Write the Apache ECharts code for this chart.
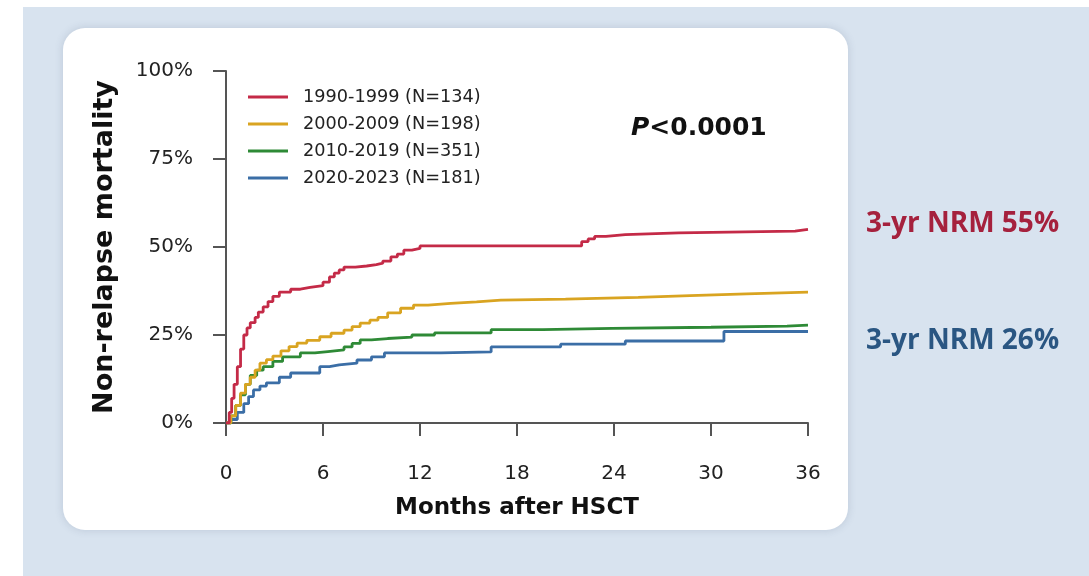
<!DOCTYPE html>
<html>
<head>
<meta charset="utf-8">
<script src="https://cdn.jsdelivr.net/npm/echarts@6/dist/echarts.min.js"></script>
<style>
  html, body { margin: 0; padding: 0; background: #ffffff; }
  #chart { width: 1089px; height: 576px; }
</style>
</head>
<body>
<div id="chart"></div>
<script>
// Cumulative incidence of non-relapse mortality by transplant era (step curves).
const seriesNames = ['1990-1999 (N=134)', '2000-2009 (N=198)', '2010-2019 (N=351)', '2020-2023 (N=181)'];

const months1990 = [0, 0.2, 0.35, 0.5, 0.7, 0.9, 1.1, 1.3, 1.5, 1.8, 2.0, 2.3, 2.6, 2.9, 3.3, 4.0, 4.6, 5.2, 6.0, 6.4, 6.7, 7.0, 7.3, 8.0, 8.7, 9.3, 9.7, 10.2, 10.6, 11.0, 11.5, 12.0, 22.0, 22.4, 22.8, 23.5, 24.7, 28.0, 35.2, 36];
const nrm1990    = [0, 3, 7, 11, 16, 21, 25, 27, 28.5, 30, 31.5, 33, 34.5, 36, 37.2, 38, 38.5, 39, 40, 41.5, 42.6, 43.5, 44.3, 44.6, 45, 45.4, 46, 47.2, 48, 49.1, 49.6, 50.3, 51.5, 52.3, 53, 53.5, 54, 54.5, 55, 55];

const months2000 = [0, 0.3, 0.6, 0.9, 1.2, 1.5, 1.8, 2.1, 2.5, 2.9, 3.4, 3.9, 4.4, 5.0, 5.8, 6.5, 7.3, 7.8, 8.3, 8.9, 9.4, 10.0, 10.8, 11.6, 12.5, 13.9, 15.5, 17.0, 21.0, 25.5, 28.7, 32.2, 36];
const nrm2000    = [0, 2, 5, 8.5, 11, 13, 15, 17, 18, 19, 20.5, 21.7, 22.7, 23.5, 24.5, 25.5, 26.4, 27.4, 28.4, 29.2, 30, 31.3, 32.6, 33.5, 34, 34.4, 34.9, 35.2, 35.7, 36.2, 36.7, 37.2, 37.2];

const months2010 = [0, 0.3, 0.6, 0.9, 1.2, 1.5, 1.9, 2.3, 2.9, 3.5, 4.6, 5.5, 6.3, 7.3, 7.8, 8.3, 9.0, 10.0, 11.5, 12.9, 16.4, 19.6, 23.9, 30.0, 34.7, 36];
const nrm2010    = [0, 2, 5, 8, 11, 13.5, 15, 16, 17.5, 18.8, 19.9, 20.3, 20.8, 21.6, 22.6, 23.6, 24, 24.4, 25, 25.6, 26.5, 26.9, 27.2, 27.5, 27.8, 27.8];

const months2020 = [0, 0.3, 0.7, 1.1, 1.4, 1.7, 2.1, 2.5, 3.3, 4.0, 5.8, 6.4, 7.0, 8.1, 9.0, 9.8, 13.3, 16.4, 20.7, 24.7, 30.8, 36];
const nrm2020    = [0, 1, 3, 5.5, 7.5, 9.4, 10.5, 11.4, 13, 14.2, 16, 16.5, 17, 17.9, 18.8, 19.9, 20.2, 21.6, 22.4, 23.3, 26, 26];

const xTicks = [0, 6, 12, 18, 24, 30, 36];
const yTicks = [0, 25, 50, 75, 100];
const pValueText = '<0.0001';

const colors = ['#c42a47', '#d9a421', '#2e8a36', '#3b6ea6'];

const pair = (xs, ys) => xs.map((x, i) => [x, ys[i]]);
const curves = [pair(months1990, nrm1990), pair(months2000, nrm2000), pair(months2010, nrm2010), pair(months2020, nrm2020)];
const lastValue = arr => arr[arr.length - 1];

const chart = echarts.init(document.getElementById('chart'), null, { renderer: 'canvas' });

const FONT = '"DejaVu Sans", sans-serif';

chart.setOption({
  animation: false,
  backgroundColor: '#ffffff',
  color: colors,
  graphic: [
    { type: 'rect', z: -10, shape: { x: 23, y: 7, width: 1066, height: 569 }, style: { fill: '#d8e3ef' } },
    { type: 'rect', z: -9, shape: { x: 63, y: 28, width: 785, height: 502, r: 22 },
      style: { fill: '#ffffff', shadowBlur: 8, shadowColor: 'rgba(60,80,110,0.18)' } },
    { type: 'text', left: 631, top: 116,
      style: { text: '{i|P}{b|' + pValueText + '}', rich: {
        i: { fontFamily: FONT, fontSize: 25, fontWeight: 'bold', fontStyle: 'italic', fill: '#111' },
        b: { fontFamily: FONT, fontSize: 25, fontWeight: 'bold', fill: '#111' } } } },
    { type: 'text', left: 866, top: 210,
      style: { text: '3-yr NRM ' + Math.round(lastValue(nrm1990)) + '%', fontFamily: '"Open Sans", sans-serif',
        fontSize: 28, fontWeight: 'bold', fill: '#a5213d' } },
    { type: 'text', left: 866, top: 327,
      style: { text: '3-yr NRM ' + Math.round(lastValue(nrm2020)) + '%', fontFamily: '"Open Sans", sans-serif',
        fontSize: 28, fontWeight: 'bold', fill: '#2a5682' } }
  ],
  legend: {
    orient: 'vertical', left: 243, top: 83,
    icon: 'rect', itemWidth: 40, itemHeight: 3, itemGap: 9,
    textStyle: { fontFamily: FONT, fontSize: 17.7, color: '#222', padding: [0, 0, 0, 10] },
    data: seriesNames
  },
  grid: { left: 226, right: 281, top: 71, bottom: 153, containLabel: false },
  xAxis: {
    type: 'value', min: xTicks[0], max: xTicks[xTicks.length - 1], interval: 6,
    name: 'Months after HSCT', nameLocation: 'middle', nameGap: 74,
    nameTextStyle: { fontFamily: FONT, fontSize: 23, fontWeight: 'bold', color: '#111' },
    axisLine: { lineStyle: { color: '#555', width: 2 } },
    axisTick: { show: true, length: 13, lineStyle: { color: '#555', width: 2 } },
    axisLabel: { margin: 41, fontFamily: FONT, fontSize: 20, color: '#222',
      formatter: v => xTicks.includes(v) ? String(v) : '' },
    splitLine: { show: false }
  },
  yAxis: {
    type: 'value', min: yTicks[0], max: yTicks[yTicks.length - 1], interval: 25,
    name: 'Non-relapse mortality', nameLocation: 'middle', nameGap: 108, nameRotate: 90,
    nameTextStyle: { fontFamily: FONT, fontSize: 27, fontWeight: 'bold', color: '#111' },
    axisLine: { show: true, lineStyle: { color: '#555', width: 2 } },
    axisTick: { show: true, length: 13, lineStyle: { color: '#555', width: 2 } },
    axisLabel: { margin: 33, fontFamily: FONT, fontSize: 20, color: '#222', formatter: '{value}%' },
    splitLine: { show: false }
  },
  series: curves.map((data, i) => ({
    name: seriesNames[i], type: 'line', step: 'end', data: data,
    showSymbol: false, symbol: 'none', lineStyle: { width: 2.8, color: colors[i] },
    itemStyle: { color: colors[i] }, z: 10 - i
  }))
});
</script>
</body>
</html>
